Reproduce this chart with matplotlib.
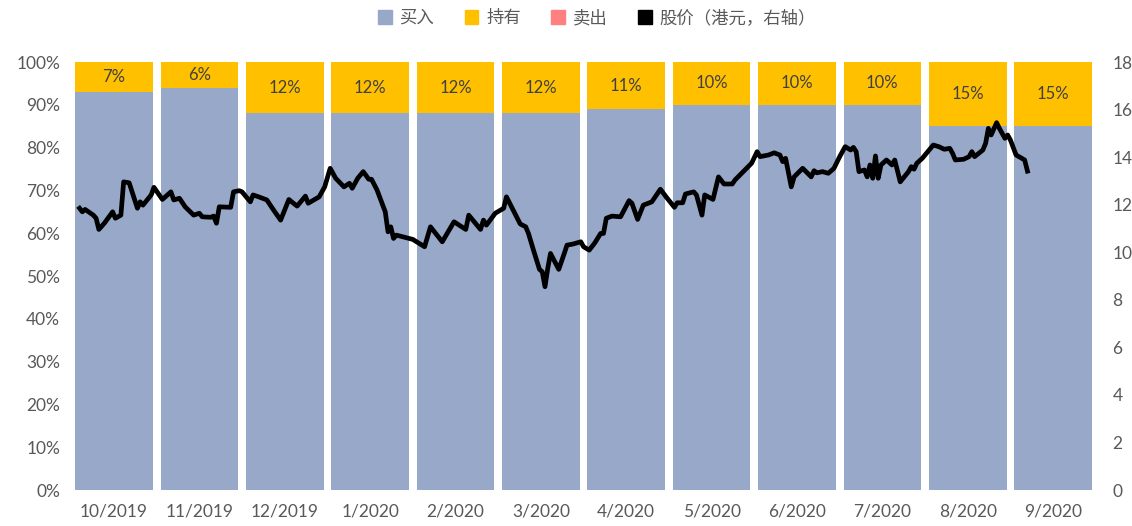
import matplotlib
matplotlib.use("Agg")
import matplotlib.pyplot as plt
from matplotlib.patches import Patch
import numpy as np
import pandas as pd

# ---------------- data ----------------
months = ["10/2019", "11/2019", "12/2019", "1/2020", "2/2020", "3/2020",
          "4/2020", "5/2020", "6/2020", "7/2020", "8/2020", "9/2020"]
buy_pct = [93, 94, 88, 88, 88, 88, 89, 90, 90, 90, 85, 85]
hold_pct = [7, 6, 12, 12, 12, 12, 11, 10, 10, 10, 15, 15]
sell_pct = [0, 0, 0, 0, 0, 0, 0, 0, 0, 0, 0, 0]

price_dates = [
    "2019-10-04", "2019-10-05", "2019-10-06", "2019-10-09", "2019-10-10", "2019-10-11", "2019-10-13",
    "2019-10-14", "2019-10-16", "2019-10-17", "2019-10-19", "2019-10-20", "2019-10-22", "2019-10-25",
    "2019-10-26", "2019-10-27", "2019-10-30", "2019-10-31",
    "2019-11-03", "2019-11-06", "2019-11-07", "2019-11-09", "2019-11-11", "2019-11-14", "2019-11-16",
    "2019-11-17", "2019-11-20", "2019-11-21", "2019-11-22", "2019-11-23", "2019-11-27", "2019-11-28",
    "2019-11-30",
    "2019-12-01", "2019-12-04", "2019-12-05", "2019-12-07", "2019-12-10", "2019-12-12", "2019-12-15",
    "2019-12-18", "2019-12-19", "2019-12-21", "2019-12-24", "2019-12-25", "2019-12-29", "2019-12-31",
    "2020-01-02", "2020-01-04", "2020-01-07", "2020-01-09", "2020-01-10", "2020-01-12", "2020-01-14",
    "2020-01-16", "2020-01-17", "2020-01-19", "2020-01-22", "2020-01-23", "2020-01-24", "2020-01-25",
    "2020-01-26", "2020-01-29",
    "2020-02-01", "2020-02-05", "2020-02-07", "2020-02-11", "2020-02-15", "2020-02-19", "2020-02-20",
    "2020-02-24", "2020-02-25", "2020-02-26", "2020-02-29",
    "2020-03-03", "2020-03-04", "2020-03-07", "2020-03-09", "2020-03-11", "2020-03-12", "2020-03-14",
    "2020-03-16", "2020-03-17", "2020-03-18", "2020-03-19", "2020-03-20", "2020-03-23", "2020-03-25",
    "2020-03-26", "2020-03-28", "2020-03-31",
    "2020-04-01", "2020-04-03", "2020-04-05", "2020-04-07", "2020-04-08", "2020-04-09", "2020-04-11",
    "2020-04-14", "2020-04-17", "2020-04-18", "2020-04-20", "2020-04-22", "2020-04-25", "2020-04-28",
    "2020-04-30",
    "2020-05-03", "2020-05-04", "2020-05-06", "2020-05-07", "2020-05-10", "2020-05-11", "2020-05-13",
    "2020-05-14", "2020-05-17", "2020-05-19", "2020-05-21", "2020-05-24", "2020-05-25", "2020-05-28",
    "2020-05-31",
    "2020-06-02", "2020-06-03", "2020-06-06", "2020-06-08", "2020-06-10", "2020-06-11", "2020-06-12",
    "2020-06-14", "2020-06-15", "2020-06-18", "2020-06-21", "2020-06-22", "2020-06-23", "2020-06-25",
    "2020-06-27", "2020-06-29",
    "2020-07-01", "2020-07-03", "2020-07-05", "2020-07-06", "2020-07-07", "2020-07-08", "2020-07-10",
    "2020-07-11", "2020-07-12", "2020-07-13", "2020-07-14", "2020-07-15", "2020-07-16", "2020-07-18",
    "2020-07-20", "2020-07-21", "2020-07-23", "2020-07-25", "2020-07-26", "2020-07-27", "2020-07-28",
    "2020-07-29", "2020-07-31",
    "2020-08-04", "2020-08-06", "2020-08-08", "2020-08-10", "2020-08-11", "2020-08-12", "2020-08-15",
    "2020-08-17", "2020-08-18", "2020-08-19", "2020-08-22", "2020-08-23", "2020-08-24", "2020-08-25",
    "2020-08-27", "2020-08-28", "2020-08-30", "2020-08-31",
    "2020-09-01", "2020-09-03", "2020-09-05", "2020-09-06", "2020-09-07",
]
price_values = [
    11.85, 11.70, 11.80, 11.56, 11.43, 10.96, 11.22,
    11.38, 11.70, 11.43, 11.56, 12.96, 12.92, 11.85,
    12.12, 11.98, 12.41, 12.73,
    12.22, 12.54, 12.20, 12.27, 11.91, 11.56, 11.64,
    11.49, 11.47, 11.52, 11.22, 11.91, 11.89, 12.54,
    12.59,
    12.54, 12.12, 12.41, 12.33, 12.20, 11.85, 11.35,
    12.22, 12.12, 11.94, 12.36, 12.06, 12.33, 12.75,
    13.53, 13.11, 12.75, 12.90, 12.69, 13.11, 13.39,
    13.07, 13.07, 12.62, 11.70, 10.86, 11.07, 10.58,
    10.72, 10.63,
    10.54, 10.23, 11.07, 10.44, 11.28, 10.96, 11.56,
    10.96, 11.35, 11.14, 11.64,
    11.85, 12.33, 11.64, 11.19, 11.07, 10.79, 10.02,
    9.28, 9.18, 8.55, 9.32, 9.95, 9.28, 9.95,
    10.30, 10.34, 10.44,
    10.23, 10.09, 10.40, 10.79, 10.79, 11.43, 11.52,
    11.49, 12.17, 12.06, 11.38, 11.98, 12.12, 12.65,
    12.33,
    11.89, 12.08, 12.08, 12.45, 12.54, 12.41, 11.56,
    12.41, 12.22, 13.17, 12.87, 12.87, 13.04, 13.39,
    13.74,
    14.23, 14.02, 14.09, 14.18, 14.09, 13.81, 13.95,
    12.75, 13.17, 13.53, 13.17, 13.43, 13.34, 13.39,
    13.32, 13.53,
    14.02, 14.44, 14.30, 14.41, 14.23, 13.39, 13.46,
    13.17, 13.67, 13.11, 14.05, 13.11, 13.67, 13.88,
    13.67, 13.88, 12.96, 13.25, 13.39, 13.60, 13.49,
    13.74, 13.95,
    14.51, 14.44, 14.33, 14.37, 14.16, 13.88, 13.91,
    14.02, 14.23, 14.02, 14.30, 14.58, 15.21, 14.93,
    15.45, 15.21, 14.79, 14.93,
    14.72, 14.09, 13.95, 13.88, 13.41,
]

left_ticks = [0, 10, 20, 30, 40, 50, 60, 70, 80, 90, 100]
right_ticks = [0, 2, 4, 6, 8, 10, 12, 14, 16, 18]

# ---------------- style ----------------
C_BUY = "#97A8C9"
C_HOLD = "#FFC000"
C_SELL = "#FF8081"
C_TXT = "#595959"
NUM_FONT = ["Lato", "DejaVu Sans"]
CJK_FONT = ["Noto Sans CJK SC", "DejaVu Sans"]

fig = plt.figure(figsize=(11.32, 5.26), dpi=100)
ax = fig.add_axes([0.063, 0.0684, 0.905, 0.8137])

x = np.arange(len(months))
buy = np.array(buy_pct) / 100
hold = np.array(hold_pct) / 100
sell = np.array(sell_pct) / 100
w = 0.91
ax.bar(x, buy, width=w, color=C_BUY, zorder=1)
ax.bar(x, hold, width=w, bottom=buy, color=C_HOLD, zorder=1)
ax.bar(x, sell, width=w, bottom=buy + hold, color=C_SELL, zorder=1)

for xi, b, h in zip(x, buy, hold):
    ax.text(xi, b + h / 2, f"{int(round(h * 100))}%", ha="center", va="center",
            fontsize=12, color="#404040", family=NUM_FONT, zorder=3)

ax.set_xlim(-0.5, len(months) - 0.5)
ax.set_ylim(0, 1)
ax.set_yticks(np.array(left_ticks) / 100)
ax.set_yticklabels([f"{t}%" for t in left_ticks], family=NUM_FONT, fontsize=12.5, color=C_TXT)
ax.set_xticks(x)
ax.set_xticklabels(months, family=NUM_FONT, fontsize=12.5, color=C_TXT)
ax.tick_params(axis="both", length=0, pad=8)
ax.tick_params(axis="x", pad=10)
for s in ax.spines.values():
    s.set_visible(False)

# price line on secondary axis; dates mapped to month positions on category axis
d = pd.to_datetime(price_dates)
month_idx = (d.year - 2019) * 12 + d.month - 10
frac = (d.day - 1) / d.days_in_month
px = month_idx - 0.5 + frac

ax2 = ax.twinx()
ax2.plot(px, price_values, color="black", lw=3.4, solid_joinstyle="round", zorder=4)
ax2.set_ylim(0, 18)
ax2.set_yticks(right_ticks)
ax2.set_yticklabels([str(t) for t in right_ticks], family=NUM_FONT, fontsize=12.5, color=C_TXT)
ax2.tick_params(axis="y", length=0, pad=12)
for s in ax2.spines.values():
    s.set_visible(False)
ax2.set_xlim(-0.5, len(months) - 0.5)

handles = [Patch(color=C_BUY), Patch(color=C_HOLD), Patch(color=C_SELL), Patch(color="black")]
labels = ["买入", "持有", "卖出", "股价（港元，右轴）"]
leg = fig.legend(handles, labels, loc="center", bbox_to_anchor=(597 / 1132, 1 - 18 / 526),
                 ncol=4, frameon=False, handlelength=0.8, handleheight=0.8,
                 handletextpad=0.45, columnspacing=1.75,
                 prop={"family": CJK_FONT, "size": 12.5})
for t in leg.get_texts():
    t.set_color(C_TXT)

fig.savefig("out.png", dpi=100)
